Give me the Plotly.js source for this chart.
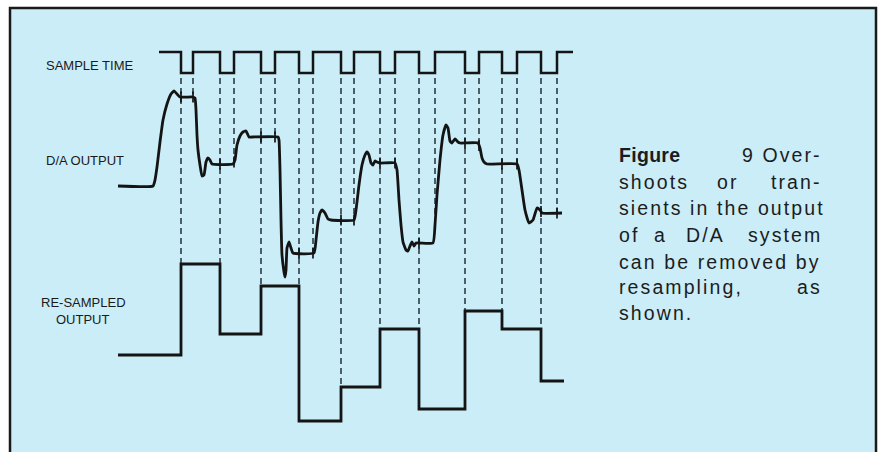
<!DOCTYPE html>
<html>
<head>
<meta charset="utf-8">
<script src="https://cdn.plot.ly/plotly-3.0.1.min.js"></script>
<style>
  html, body { margin: 0; padding: 0; background: #ffffff; }
  #chart { width: 880px; height: 452px; }
</style>
</head>
<body>
<div id="chart"></div>
<script>
// ---- Data (time in arbitrary units, level up = higher) ----
// Sample-time clock: falls (start of sample window) and rises (end)
const fallTimes = [181, 220, 261, 299, 341, 380, 419, 465, 502, 541];
const riseTimes = [193, 234, 275, 313, 354, 395, 435, 479, 517, 557];
const clockSpan = [159, 573];
const clockLevels = [400, 379];      // high, low

// D/A output waveform (with overshoots / transients)
const daTime = [118,153,155,157,160,163,167,171,174,177,180,193,195,
  196,197,198,200,202,204,206,208,210,212,233,
  235,237,240,243,246,249,252,278,
  279,280,281,282,284,285,286,287,289,291,293,314,
  316,318,320,322,325,328,331,354,
  356,359,362,365,367,369,371,373,375,377,380,395,
  397,399,401,403,406,408,410,412,414,416,433,
  435,437,440,443,446,448,450,452,455,458,460,478,
  480,482,484,487,517,
  519,522,525,529,533,537,540,542,562];
const daLevel = [266,266,272,285,310,332,348,358,361,358,355,355,354,
  342,317,302,287,276,277,290,294,292,288,288,
  292,307,316,320,321,315,315,315,
  312,282,232,197,180,175,182,204,210,204,199,199,
  212,230,239,242,239,233,232,232,
  242,267,287,297,300,297,289,287,291,290,289,289,
  282,252,227,210,202,201,206,210,206,209,209,
  227,257,292,317,327,324,311,309,313,310,309,309,
  304,294,290,288,288,
  282,262,242,229,232,244,242,239,239];

// Re-sampled output: initial level, level taken at each sample start, span
const resSpan = [118, 564];
const resInitial = 97;
const resLevels = [188, 118, 166, 31, 65, 123, 43, 141, 123, 71];

// Guide lines start just under the clock
const guideTop = 374;

// Labels
const leftLabels = ["SAMPLE TIME", "D/A OUTPUT", "RE-SAMPLED", "OUTPUT"];
const captionLines = [
  ["<b>Figure</b>", "9 Over-"],
  ["shoots", "or", "tran-"],
  ["sients in the output"],
  ["of", "a", "D/A", "system"],
  ["can be removed by"],
  ["resampling,", "as"],
  ["shown."]
];

// ---- helpers ----
function interp(xs, ys, x) {
  for (let i = 0; i < xs.length - 1; i++) {
    if (x >= xs[i] && x <= xs[i + 1]) {
      const f = (xs[i + 1] === xs[i]) ? 0 : (x - xs[i]) / (xs[i + 1] - xs[i]);
      return ys[i] + f * (ys[i + 1] - ys[i]);
    }
  }
  return ys[ys.length - 1];
}

const ink = "#141414";

// Clock trace
const clkX = [clockSpan[0]], clkY = [clockLevels[0]];
fallTimes.forEach((f, i) => {
  clkX.push(f, f, riseTimes[i], riseTimes[i]);
  clkY.push(clockLevels[0], clockLevels[1], clockLevels[1], clockLevels[0]);
});
clkX.push(clockSpan[1]); clkY.push(clockLevels[0]);

// Re-sampled trace
const resX = [resSpan[0]], resY = [resInitial];
let prev = resInitial;
fallTimes.forEach((f, i) => {
  resX.push(f, f);
  resY.push(prev, resLevels[i]);
  prev = resLevels[i];
});
resX.push(resSpan[1]); resY.push(prev);

// Guide (dashed) lines
const gX = [], gY = [];
let p2 = resInitial;
fallTimes.forEach((f, i) => {
  const end = Math.max(p2, resLevels[i]);
  gX.push(f, f, null); gY.push(guideTop, end, null);
  p2 = resLevels[i];
});
riseTimes.forEach(r => {
  gX.push(r, r, null); gY.push(guideTop, interp(daTime, daLevel, r), null);
});

// Tick marks where guides meet D/A output
const tickX = fallTimes.concat(riseTimes);
const tickY = tickX.map(t => interp(daTime, daLevel, t));

const traces = [
  { x: gX, y: gY, mode: "lines", line: { color: "#22303a", width: 1.5, dash: "6px,4px" }, hoverinfo: "skip" },
  { x: clkX, y: clkY, mode: "lines", line: { color: ink, width: 2.5 }, hoverinfo: "skip" },
  { x: daTime, y: daLevel, mode: "lines", line: { color: ink, width: 2.8, shape: "spline", smoothing: 0.4 }, hoverinfo: "skip" },
  { x: tickX, y: tickY, mode: "markers", marker: { symbol: "line-ns", size: 8, line: { color: ink, width: 1.7 } }, hoverinfo: "skip" },
  { x: resX, y: resY, mode: "lines", line: { color: ink, width: 2.8 }, hoverinfo: "skip" }
];

// Annotations
const lblFont = { family: "Liberation Sans, Arial, sans-serif", size: 13, color: "#1a1a1a" };
const annotations = [
  { x: 44, y: 387, text: leftLabels[0], xanchor: "left" },
  { x: 44, y: 292, text: leftLabels[1], xanchor: "left" },
  { x: 83, y: 150, text: leftLabels[2], xanchor: "center" },
  { x: 83, y: 133, text: leftLabels[3], xanchor: "center" }
].map(a => Object.assign(a, { xref: "x", yref: "y", yanchor: "middle", showarrow: false, font: lblFont }));

const capFont = { family: "Liberation Sans, Arial, sans-serif", size: 19.5, color: "#1c1c1c" };
const capLeft = 617, capRight = 824;
const capY = [297, 270, 244, 217, 190, 165, 139];
const midPos = { 1: [728], 3: [660, 705] };
captionLines.forEach((words, li) => {
  words.forEach((w, wi) => {
    let x, anchor;
    if (wi === 0) { x = capLeft; anchor = "left"; }
    else if (wi === words.length - 1) { x = capRight; anchor = "right"; }
    else { x = midPos[li][wi - 1]; anchor = "center"; }
    const spacing = w.indexOf("<b>") === 0 ? 0.3 : 2.1;
    annotations.push({
      x: x, y: capY[li], xref: "x", yref: "y", xanchor: anchor, yanchor: "middle",
      showarrow: false, font: capFont,
      text: '<span style="letter-spacing:' + spacing + 'px">' + w + '</span>'
    });
  });
});

const layout = {
  width: 880, height: 452,
  margin: { l: 0, r: 0, t: 0, b: 0 },
  paper_bgcolor: "#ffffff", plot_bgcolor: "#ffffff",
  showlegend: false,
  xaxis: { range: [0, 880], visible: false, fixedrange: true },
  yaxis: { range: [0, 452], visible: false, fixedrange: true },
  shapes: [
    { type: "rect", xref: "x", yref: "y", x0: 10, x1: 876, y0: -5, y1: 444,
      fillcolor: "#caedf7", line: { width: 0 }, layer: "below" },
    { type: "path", xref: "x", yref: "y", path: "M 10,-5 L 10,444 L 876,444 L 876,-5",
      line: { color: "#1a1a1a", width: 2.5 }, layer: "above" }
  ],
  annotations: annotations
};

Plotly.newPlot("chart", traces, layout, { staticPlot: true, displayModeBar: false });
</script>
</body>
</html>
